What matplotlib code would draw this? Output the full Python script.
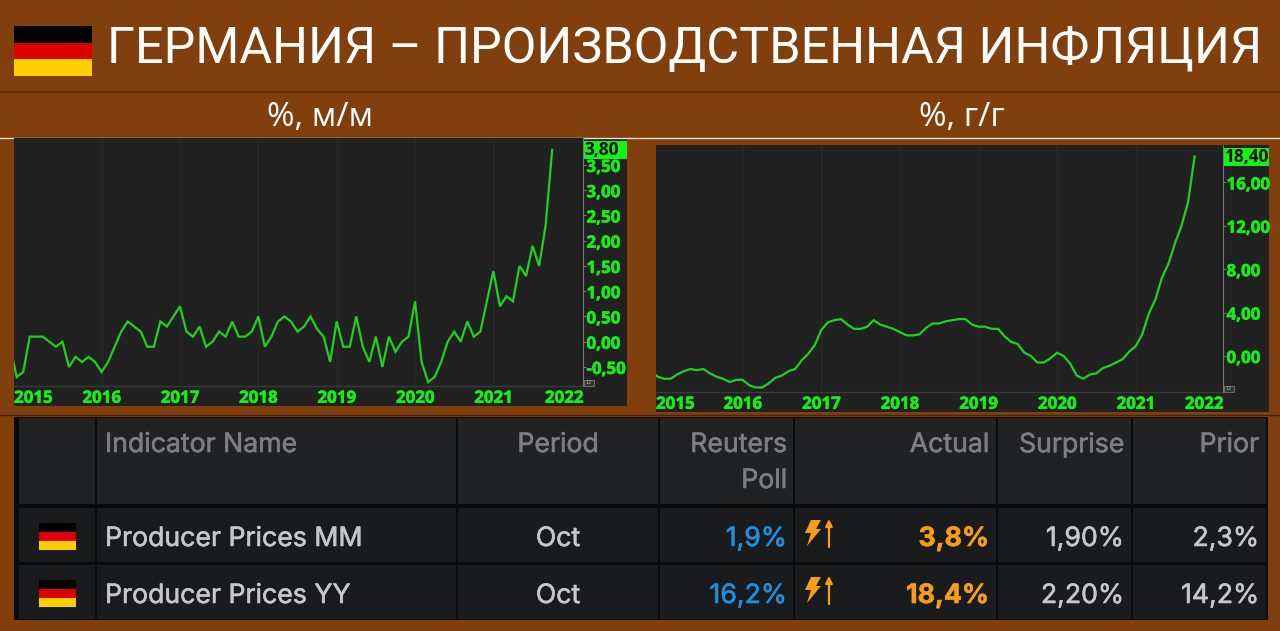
# Германия: производственная инфляция, м/м и г/г + таблица релиза
import numpy as np
import matplotlib
matplotlib.use('Agg')
import matplotlib.pyplot as plt
import matplotlib.patheffects as pe
from matplotlib.patches import Rectangle, Polygon

# месячные данные, начало ноябрь 2014
mm_values = [-0.1, -0.7, -0.6, 0.1, 0.1, 0.1, 0.0, -0.1, 0.0, -0.5, -0.3, -0.4, -0.3, -0.4,
             -0.6, -0.4, -0.1, 0.2, 0.4, 0.3, 0.2, -0.1, -0.1, 0.4, 0.3, 0.5,
             0.7, 0.2, 0.1, 0.3, -0.1, 0.0, 0.2, 0.1, 0.4, 0.1, 0.1, 0.2,
             0.5, -0.1, 0.1, 0.4, 0.5, 0.4, 0.2, 0.3, 0.5, 0.25, 0.1, -0.4,
             0.4, -0.1, -0.1, 0.5, -0.1, -0.4, 0.1, -0.5, 0.1, -0.2, 0.0, 0.1,
             0.8, -0.4, -0.8, -0.7, -0.4, 0.0, 0.2, 0.0, 0.4, 0.1, 0.2, 0.8,
             1.4, 0.7, 0.9, 0.8, 1.5, 1.3, 1.9, 1.5, 2.3, 3.8]
yy_values = [-1.3, -1.9, -2.1, -2.1, -1.7, -1.4, -1.2, -1.3, -1.2, -1.6, -1.9, -2.1, -2.4, -2.2,
             -2.2, -2.7, -2.9, -2.9, -2.5, -2.0, -1.8, -1.4, -1.2, -0.4, 0.2, 1.0,
             2.4, 3.1, 3.3, 3.4, 2.9, 2.5, 2.5, 2.7, 3.3, 2.9, 2.7, 2.5,
             2.2, 1.9, 1.9, 2.0, 2.6, 3.0, 3.0, 3.2, 3.3, 3.4, 3.4, 2.9,
             2.7, 2.7, 2.5, 2.5, 1.8, 1.3, 1.1, 0.3, 0.0, -0.6, -0.6, -0.2,
             0.3, 0.0, -0.7, -1.8, -2.1, -1.7, -1.6, -1.1, -0.9, -0.6, -0.3, 0.4,
             0.9, 2.0, 3.9, 5.2, 7.2, 8.5, 10.4, 12.0, 14.2, 18.4]
years = [2015, 2016, 2017, 2018, 2019, 2020, 2021, 2022]
mm_ticks = [-0.5, 0.0, 0.5, 1.0, 1.5, 2.0, 2.5, 3.0, 3.5]
yy_ticks = [0, 4, 8, 12, 16]

# таблица
col_headers = ['Indicator Name', 'Period', 'Reuters\nPoll', 'Actual', 'Surprise', 'Prior']
indicators = ['Producer Prices MM', 'Producer Prices YY']
periods = ['Oct', 'Oct']
polls = ['1,9%', '16,2%']
actuals = ['3,8%', '18,4%']
surprises = ['1,90%', '2,20%']
priors = ['2,3%', '14,2%']

W, H = 1280, 631
BROWN = '#803f0d'
PANEL = '#212121'
GREEN = '#17ee17'
LINE = '#22d022'
BOLDER = [pe.withStroke(linewidth=0.4, foreground=GREEN)]
plt.rcParams['font.family'] = ['Inter', 'DejaVu Sans']

fig = plt.figure(figsize=(W / 100, H / 100), dpi=100, facecolor=BROWN)

# холст в пикселях для всего, что не график
bg = fig.add_axes([0, 0, 1, 1])
bg.set_xlim(0, W)
bg.set_ylim(H, 0)
bg.axis('off')


def flag(x, y, w, h):
    for i, c in enumerate(['#000000', '#dd0000', '#ffce00']):
        bg.add_patch(Rectangle((x, y + i * h / 3), w, h / 3, fc=c, ec='none'))


def bolt(x, y):
    bg.add_patch(Polygon([(x + 7, y), (x + 17, y), (x + 12, y + 9), (x + 17, y + 9),
                          (x + 3, y + 26), (x + 7, y + 13), (x + 1, y + 13)],
                         fc='#f59d1a', ec='none'))
    bg.annotate('', xy=(x + 25, y - 1), xytext=(x + 25, y + 27),
                arrowprops=dict(arrowstyle='-|>', color='#f59d1a', lw=1.6,
                                mutation_scale=10, shrinkA=0, shrinkB=0))


def cell(x, y, s, color, ha='right', weight='normal'):
    # тонкая обводка, в оригинале шрифт плотнее
    bg.text(x, y, s, color=color, fontsize=table_fs, ha=ha, va='center', fontweight=weight,
            path_effects=[pe.withStroke(linewidth=0.4, foreground=color)])


# шапка
flag(14, 26, 78, 50)
bg.text(685, 49.5, 'ГЕРМАНИЯ – ПРОИЗВОДСТВЕННАЯ ИНФЛЯЦИЯ', color='white', fontsize=36.3,
        ha='center', va='center', family='Roboto')
bg.plot([0, W], [92, 92], color='#5a2a05', lw=1.2)
bg.plot([0, W], [137.5, 137.5], color='#e8ddd0', lw=1)
bg.text(320, 118, '%, м/м', color='white', fontsize=24, ha='center', va='center', family='Open Sans')
bg.text(962, 118, '%, г/г', color='white', fontsize=24, ha='center', va='center', family='Open Sans')
bg.plot([0, W], [414.5, 414.5], color='#4a2206', lw=1)


def chart(values, px, plot_right, top, axis_y, bottom, right, y0_px, px_per_unit,
          jan16_px, month_px, ticks, last_label, legend):
    # панель с тёмным фоном
    bg.add_patch(Rectangle((px, top), right - px, bottom - top, fc=PANEL, ec='none'))
    ax = fig.add_axes([px / W, 1 - axis_y / H, (plot_right - px) / W, (axis_y - top) / H])
    ax.set_facecolor(PANEL)
    # x в месяцах от ноября 2014
    month = np.arange(len(values))
    jan16 = 14
    ax.set_xlim(jan16 + (px - jan16_px) / month_px, jan16 + (plot_right - jan16_px) / month_px)
    ax.set_ylim((y0_px - axis_y) / px_per_unit, (y0_px - top) / px_per_unit)
    ax.plot(month, values, color=LINE, lw=1.6, solid_joinstyle='miter')

    jan = [2 + 12 * (y - 2015) for y in years]
    for x in jan[1:-1]:
        ax.axvline(x, color='#282828', lw=1, zorder=0)
    xmin, xmax = ax.get_xlim()
    ax.set_xticks([xmin] + jan[1:-1] + [xmax])
    ax.set_xticklabels([str(y) for y in years], color=GREEN, fontsize=12.2, fontweight='bold',
                       family='Open Sans', path_effects=BOLDER)
    labels = ax.get_xticklabels()
    labels[0].set_ha('left')
    labels[-1].set_ha('right')
    ax.tick_params(axis='x', length=0, pad=2)

    ax.yaxis.tick_right()
    ax.set_yticks(ticks)
    ax.set_yticklabels([f'{t:.2f}'.replace('.', ',') for t in ticks], color=GREEN, fontsize=12.2,
                       fontweight='bold', family='Open Sans', path_effects=BOLDER)
    ax.tick_params(axis='y', length=2, width=0.8, color='#777777', pad=0.5)
    for s in ['top', 'left', 'bottom']:
        ax.spines[s].set_visible(False)
    ax.spines['right'].set_color('#777777')
    ax.plot([0, 1], [0, 0], transform=ax.transAxes, color='#3a3a3a', lw=1, clip_on=False)

    # значение последней точки
    bg.add_patch(Rectangle((plot_right, top + 3), right - plot_right, 18, fc='#11f511',
                           ec='none', zorder=5))
    bg.text(plot_right + 1, top + 12, last_label, color='#0a0a0a', fontsize=12.4, fontweight='bold',
            family='Open Sans', ha='left', va='center', zorder=6)
    # строка легенды
    t = bg.text(px + 2, top + 5, legend, color='#1c9c1c', fontsize=3.6, ha='left', va='center',
                family='DejaVu Sans', zorder=6)
    fig.canvas.draw()
    x1 = bg.transData.inverted().transform(t.get_window_extent().corners())[:, 0].max()
    bg.text(x1 + 1, top + 5, 'N/A; N/A', color='#cccccc', fontsize=3.6, ha='left', va='center',
            family='DejaVu Sans', zorder=6)
    # значок в углу
    bg.add_patch(Rectangle((plot_right + 1, axis_y - 6), 10, 6, fc='#333333', ec='#888888', lw=0.5,
                           zorder=6))
    bg.text(plot_right + 6, axis_y - 3, '12', color='#bbbbbb', fontsize=3.5, ha='center', va='center',
            family='DejaVu Sans', zorder=7)
    return ax


chart(mm_values, 14, 583, 138, 386, 406, 627, 341.7, 50.5, 101.6, 6.53, mm_ticks, '3,80',
      'Line; DEPPI=ECI; Economic Indicator(Last); (S1; S2); 31.10.2021; 3,80')
chart(yy_values, 656, 1223, 145, 392, 412, 1269, 356, 10.85, 742.7, 6.55, yy_ticks, '18,40',
      'Line; DEYPPI=ECI; Economic Indicator(Last); (S1; S2); 31.10.2021; 18,40')

# таблица
bg.add_patch(Rectangle((14, 417), 1254, 203, fc='#0b0b0b', ec='none'))
col_edges = [19, 97, 458, 660, 795, 998, 1133, 1268]
row_tops = [418, 508, 565]
row_bots = [504, 562, 619]
for c0, c1 in zip(col_edges[:-1], col_edges[1:]):
    for r, (r0, r1) in enumerate(zip(row_tops, row_bots)):
        bg.add_patch(Rectangle((c0, r0), c1 - c0 - 2, r1 - r0, ec='none',
                               fc='#212224' if r == 0 else '#1a1b1d'))

HEAD = '#7d7e80'
BODY = '#c6c7c8'
table_fs = 19.2
cell(105, 445, col_headers[0], HEAD, ha='left')
cell(558, 445, col_headers[1], HEAD, ha='center')
reuters, poll = col_headers[2].split('\n')
cell(787, 445, reuters, HEAD)
cell(787, 481, poll, HEAD)
cell(989, 445, col_headers[3], HEAD)
cell(1124, 445, col_headers[4], HEAD)
cell(1259, 445, col_headers[5], HEAD)

for i, y in enumerate([537, 594]):
    flag(39, y - 14, 37, 27)
    cell(105, y + 2, indicators[i], BODY, ha='left')
    cell(558, y + 2, periods[i], BODY, ha='center')
    cell(787, y + 2, polls[i], '#1f8fe0')
    bolt(804, y - 17)
    cell(989, y + 2, actuals[i], '#f59d1a', weight='bold')
    cell(1124, y + 2, surprises[i], BODY)
    cell(1259, y + 2, priors[i], BODY)

fig.savefig('out.png', dpi=100, facecolor=BROWN)
